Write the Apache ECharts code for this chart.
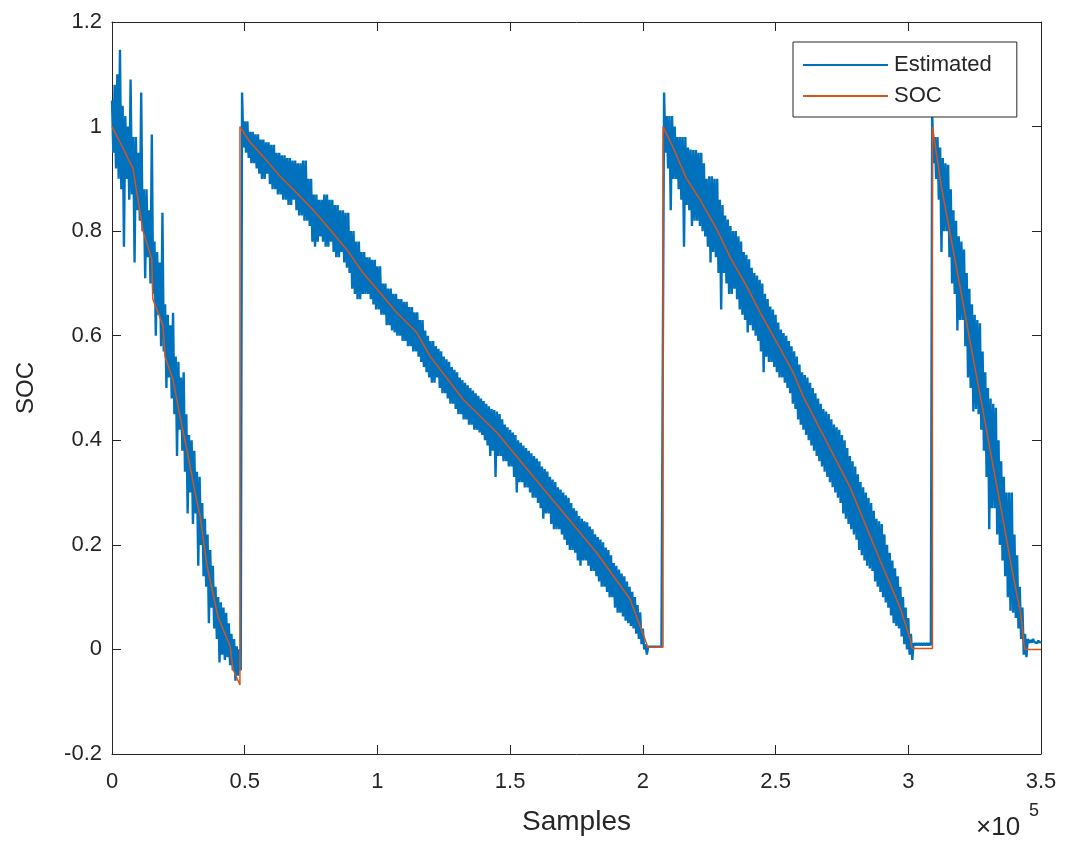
<!DOCTYPE html>
<html>
<head>
<meta charset="utf-8">
<script src="https://cdn.jsdelivr.net/npm/echarts@6/dist/echarts.min.js"></script>
<style>
html,body{margin:0;padding:0;background:#fff;}
#chart{width:1065px;height:842px;}
</style>
</head>
<body>
<div id="chart"></div>
<script>
// Estimated SOC: for each block of 1000 samples,
// the upper reading (at the block start) and the lower reading (500 samples later).
const blockSize = 1000;

const estUpper = [
  1.05, 1.08, 1.10, 1.147, 1.04, 1.02, 1.00, 1.09, 0.98, 0.98,
  0.95, 1.065, 0.88, 0.88, 0.84, 0.985, 0.78, 0.76, 0.74, 0.835,
  0.66, 0.64, 0.62, 0.644, 0.56, 0.55, 0.52, 0.53, 0.45, 0.41,
  0.40, 0.38, 0.34, 0.33, 0.28, 0.25, 0.22, 0.19, 0.16, 0.12,
  0.10, 0.09, 0.08, 0.07, 0.05, 0.03, 0.02, 0.006, 0.0, 1.065,
  1.01, 1.01, 0.99, 0.99, 0.985, 0.985, 0.975, 0.975, 0.97, 0.97,
  0.965, 0.965, 0.95, 0.95, 0.945, 0.945, 0.94, 0.94, 0.935, 0.935,
  0.93, 0.93, 0.935, 0.935, 0.90, 0.90, 0.87, 0.87, 0.86, 0.86,
  0.87, 0.87, 0.86, 0.86, 0.85, 0.85, 0.84, 0.84, 0.835, 0.835,
  0.80, 0.80, 0.78, 0.78, 0.76, 0.76, 0.75, 0.75, 0.745, 0.745,
  0.733, 0.733, 0.70, 0.70, 0.69, 0.69, 0.68, 0.68, 0.67, 0.67,
  0.665, 0.665, 0.655, 0.655, 0.645, 0.645, 0.63, 0.63, 0.61, 0.60,
  0.59, 0.59, 0.58, 0.575, 0.57, 0.56, 0.555, 0.55, 0.54, 0.535,
  0.53, 0.52, 0.515, 0.51, 0.505, 0.50, 0.495, 0.49, 0.485, 0.48,
  0.475, 0.47, 0.465, 0.46, 0.458, 0.455, 0.45, 0.44, 0.43, 0.425,
  0.42, 0.415, 0.41, 0.40, 0.395, 0.39, 0.385, 0.38, 0.375, 0.37,
  0.365, 0.36, 0.35, 0.345, 0.34, 0.33, 0.325, 0.32, 0.31, 0.306,
  0.30, 0.295, 0.29, 0.28, 0.27, 0.265, 0.255, 0.25, 0.245, 0.243,
  0.235, 0.23, 0.22, 0.215, 0.21, 0.205, 0.195, 0.19, 0.18, 0.165,
  0.16, 0.153, 0.145, 0.14, 0.13, 0.12, 0.11, 0.10, 0.085, 0.071,
  0.04, 0.01, 0.005, 0.005, 0.005, 0.005, 0.005, 0.005, 1.065, 1.02,
  1.02, 1.02, 1.00, 0.98, 0.98, 0.98, 0.98, 0.96, 0.956, 0.955,
  0.955, 0.95, 0.95, 0.93, 0.90, 0.905, 0.905, 0.90, 0.90, 0.86,
  0.85, 0.83, 0.822, 0.81, 0.80, 0.80, 0.79, 0.78, 0.76, 0.755,
  0.746, 0.73, 0.72, 0.715, 0.707, 0.70, 0.68, 0.67, 0.656, 0.65,
  0.64, 0.625, 0.612, 0.605, 0.60, 0.59, 0.58, 0.57, 0.56, 0.545,
  0.53, 0.525, 0.52, 0.51, 0.50, 0.49, 0.48, 0.47, 0.46, 0.455,
  0.45, 0.44, 0.43, 0.425, 0.42, 0.41, 0.40, 0.385, 0.37, 0.36,
  0.35, 0.335, 0.32, 0.31, 0.30, 0.29, 0.28, 0.265, 0.25, 0.245,
  0.24, 0.22, 0.20, 0.185, 0.17, 0.155, 0.14, 0.12, 0.10, 0.08,
  0.06, 0.03, 0.012, 0.012, 0.012, 0.012, 0.012, 0.012, 0.012, 1.03,
  0.98, 0.98, 0.96, 0.94, 0.93, 0.927, 0.88, 0.84, 0.82, 0.79,
  0.78, 0.765, 0.72, 0.69, 0.66, 0.64, 0.63, 0.624, 0.57, 0.53,
  0.50, 0.48, 0.47, 0.462, 0.40, 0.36, 0.33, 0.30, 0.30, 0.30,
  0.22, 0.18, 0.12, 0.08, 0.03, 0.02, 0.018, 0.02, 0.016, 0.017,
  0.015
];

const estLower = [
  0.95, 0.92, 0.90, 0.88, 0.77, 0.90, 0.86, 0.87, 0.74, 0.84,
  0.82, 0.80, 0.71, 0.75, 0.70, 0.68, 0.60, 0.64, 0.58, 0.57,
  0.50, 0.52, 0.48, 0.45, 0.37, 0.42, 0.38, 0.34, 0.26, 0.30,
  0.24, 0.26, 0.16, 0.20, 0.14, 0.12, 0.05, 0.08, 0.04, 0.02,
  -0.025, -0.01, -0.02, -0.015, -0.03, -0.04, -0.06, -0.05, -0.04, 0.96,
  0.95, 0.94, 0.93, 0.93, 0.92, 0.91, 0.90, 0.90, 0.91, 0.89,
  0.88, 0.88, 0.87, 0.87, 0.86, 0.86, 0.85, 0.85, 0.86, 0.84,
  0.83, 0.83, 0.82, 0.82, 0.81, 0.78, 0.77, 0.78, 0.79, 0.78,
  0.77, 0.77, 0.78, 0.76, 0.75, 0.75, 0.76, 0.74, 0.73, 0.72,
  0.69, 0.68, 0.67, 0.67, 0.68, 0.68, 0.68, 0.67, 0.66, 0.65,
  0.65, 0.64, 0.64, 0.62, 0.62, 0.61, 0.606, 0.60, 0.60, 0.59,
  0.59, 0.58, 0.58, 0.57, 0.57, 0.56, 0.55, 0.54, 0.53, 0.52,
  0.51, 0.51, 0.52, 0.50, 0.49, 0.49, 0.48, 0.47, 0.47, 0.46,
  0.45, 0.45, 0.44, 0.44, 0.43, 0.43, 0.42, 0.42, 0.415, 0.41,
  0.40, 0.39, 0.37, 0.38, 0.33, 0.37, 0.37, 0.36, 0.36, 0.35,
  0.35, 0.33, 0.30, 0.32, 0.32, 0.31, 0.31, 0.30, 0.29, 0.29,
  0.28, 0.27, 0.25, 0.26, 0.26, 0.24, 0.23, 0.23, 0.23, 0.22,
  0.21, 0.20, 0.19, 0.19, 0.185, 0.17, 0.16, 0.17, 0.17, 0.16,
  0.15, 0.15, 0.14, 0.13, 0.12, 0.12, 0.11, 0.10, 0.10, 0.08,
  0.07, 0.07, 0.063, 0.055, 0.05, 0.045, 0.04, 0.03, 0.02, 0.01,
  0.0, -0.01, 0.005, 0.005, 0.005, 0.005, 0.005, 0.005, 0.95, 0.92,
  0.84, 0.90, 0.90, 0.88, 0.86, 0.77, 0.85, 0.84, 0.81, 0.82,
  0.82, 0.81, 0.80, 0.79, 0.77, 0.74, 0.76, 0.75, 0.72, 0.65,
  0.72, 0.70, 0.68, 0.68, 0.69, 0.67, 0.65, 0.64, 0.63, 0.606,
  0.62, 0.61, 0.60, 0.59, 0.57, 0.53, 0.56, 0.55, 0.55, 0.54,
  0.53, 0.52, 0.52, 0.51, 0.50, 0.49, 0.47, 0.46, 0.44, 0.43,
  0.42, 0.41, 0.40, 0.39, 0.38, 0.37, 0.36, 0.35, 0.34, 0.33,
  0.32, 0.31, 0.30, 0.29, 0.28, 0.26, 0.25, 0.24, 0.23, 0.22,
  0.21, 0.19, 0.18, 0.17, 0.16, 0.155, 0.15, 0.13, 0.12, 0.11,
  0.10, 0.09, 0.08, 0.065, 0.05, 0.045, 0.04, 0.025, 0.01, 0.0,
  -0.01, -0.02, 0.008, 0.008, 0.008, 0.008, 0.008, 0.008, 0.008, 0.93,
  0.90, 0.86, 0.76, 0.80, 0.80, 0.75, 0.70, 0.68, 0.61, 0.63,
  0.63, 0.58, 0.52, 0.50, 0.455, 0.46, 0.45, 0.42, 0.38, 0.33,
  0.23, 0.27, 0.27, 0.22, 0.20, 0.17, 0.14, 0.10, 0.074, 0.07,
  0.06, 0.04, 0.02, -0.01, -0.015, 0.012, 0.013, 0.014, 0.012, 0.013,
  0.014
];

// True SOC: breakpoints (sample index, value)
const socX = [
  0, 3000, 7900, 11700, 15000, 15400, 19200, 20000, 23000, 25600, 28300, 31300, 33200, 35800, 39900, 44500, 45600, 48200,
  48200, 52000, 56900, 63300, 69600, 75700, 82100, 88400, 94600, 101000, 107300, 114800, 119800, 132300, 145000, 157500, 170000, 182600, 195200, 201500, 201800, 207600,
  207600, 211400, 216500, 221600, 227900, 232900, 239200, 244200, 250500, 256600, 260400, 278100, 289400, 296900, 300700, 301400, 309100,
  309100, 312300, 316100, 320000, 323800, 327700, 331500, 335400, 339100, 342400, 343600, 344000, 350000
];
const socY = [
  1.0, 0.97, 0.92, 0.80, 0.746, 0.67, 0.62, 0.56, 0.516, 0.446, 0.38, 0.30, 0.255, 0.16, 0.063, 0.006, -0.038, -0.068,
  1.0, 0.97, 0.943, 0.905, 0.873, 0.841, 0.803, 0.765, 0.72, 0.682, 0.644, 0.606, 0.561, 0.478, 0.415, 0.338, 0.262, 0.185, 0.096, 0.01, 0.004, 0.004,
  1.0, 0.96, 0.90, 0.86, 0.803, 0.75, 0.694, 0.644, 0.587, 0.53, 0.484, 0.31, 0.17, 0.08, 0.02, 0.002, 0.002,
  1.0, 0.89, 0.786, 0.68, 0.575, 0.469, 0.363, 0.257, 0.152, 0.067, 0.01, 0.0, 0.0
];

const seriesNames = ['Estimated', 'SOC'];
const xTickDivisor = 1e5;
const xMax = 350000;

const estData = [];
estUpper.forEach((u, k) => {
  estData.push([k * blockSize, u]);
  const xl = k * blockSize + blockSize / 2;
  if (xl <= xMax) estData.push([xl, estLower[k]]);
});
const socData = socX.map((x, i) => [x, socY[i]]);

const axisColor = '#262626';
const fontFam = '"Liberation Sans", Arial, Helvetica, sans-serif';

const chart = echarts.init(document.getElementById('chart'), null, {renderer: 'canvas'});

const baseX = {
  type: 'value', min: 0, max: xMax, interval: 50000,
  axisLine: {show: true, onZero: false, lineStyle: {color: axisColor, width: 1}},
  axisTick: {show: true, inside: true, length: 9, lineStyle: {color: axisColor}},
  splitLine: {show: false}
};
const baseY = {
  type: 'value', min: -0.2, max: 1.2, interval: 0.2,
  axisLine: {show: true, onZero: false, lineStyle: {color: axisColor, width: 1}},
  axisTick: {show: true, inside: true, length: 9, lineStyle: {color: axisColor}},
  splitLine: {show: false}
};

chart.setOption({
  animation: false,
  backgroundColor: '#ffffff',
  grid: {left: 112, right: 24, top: 22, bottom: 88, containLabel: false},
  legend: {
    data: seriesNames.map(n => ({name: n, icon: 'rect'})),
    orient: 'vertical',
    left: 793, top: 42,
    itemWidth: 85, itemHeight: 2, itemGap: 9,
    padding: [12, 25, 10, 10],
    borderColor: axisColor, borderWidth: 1, borderRadius: 0,
    backgroundColor: '#ffffff',
    textStyle: {fontFamily: fontFam, fontSize: 22, color: axisColor, padding: [0, 0, 0, 1]}
  },
  xAxis: [
    Object.assign({}, baseX, {
      position: 'bottom',
      name: 'Samples', nameLocation: 'middle', nameGap: 54,
      nameTextStyle: {fontFamily: fontFam, fontSize: 28, color: axisColor},
      axisLabel: {show: true, margin: 17, fontFamily: fontFam, fontSize: 22, color: axisColor,
        formatter: v => String(+(v / xTickDivisor).toFixed(1))}
    }),
    Object.assign({}, baseX, {position: 'top', axisLabel: {show: false}})
  ],
  yAxis: [
    Object.assign({}, baseY, {
      position: 'left',
      name: 'SOC', nameLocation: 'middle', nameGap: 74, nameRotate: 90,
      nameTextStyle: {fontFamily: fontFam, fontSize: 24, color: axisColor},
      axisLabel: {show: true, margin: 10, fontFamily: fontFam, fontSize: 22, color: axisColor,
        formatter: v => String(+v.toFixed(1))}
    }),
    Object.assign({}, baseY, {position: 'right', axisLabel: {show: false}})
  ],
  graphic: [
    {type: 'text', left: 976, top: 815, style: {text: '×10', fontFamily: fontFam, fontSize: 26, fill: axisColor}},
    {type: 'text', left: 1029, top: 802, style: {text: '5', fontFamily: fontFam, fontSize: 18, fill: axisColor}}
  ],
  series: [
    {
      name: seriesNames[0], type: 'line', data: estData, xAxisIndex: 0, yAxisIndex: 0,
      showSymbol: false, symbol: 'none', smooth: false,
      lineStyle: {color: '#0072BD', width: 2.4, join: 'bevel'},
      itemStyle: {color: '#0072BD'}, z: 2
    },
    {
      name: seriesNames[1], type: 'line', data: socData, xAxisIndex: 0, yAxisIndex: 0,
      showSymbol: false, symbol: 'none', smooth: false,
      lineStyle: {color: '#D95319', width: 1.5},
      itemStyle: {color: '#D95319'}, z: 3
    }
  ]
});
</script>
</body>
</html>
